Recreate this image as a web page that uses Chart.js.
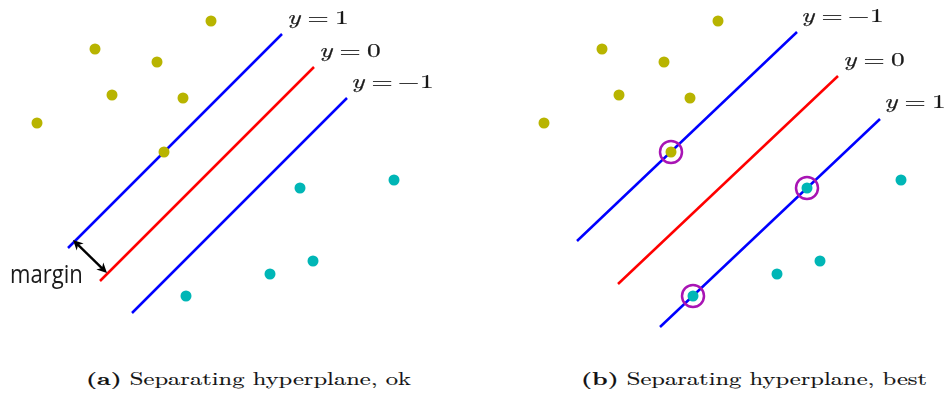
<!DOCTYPE html>
<html>
<head>
<meta charset="utf-8">
<script src="https://cdn.jsdelivr.net/npm/chart.js@4.4.1/dist/chart.umd.min.js"></script>
<style>
  body { margin: 0; background: #fff; width: 948px; height: 398px; position: relative; overflow: hidden; }
  .panel { position: absolute; top: 0; width: 474px; height: 340px; }
  .caption { position: absolute; top: 368px; font: 17.8px "Latin Modern Roman", "Liberation Serif", serif; color: #111;
             white-space: nowrap; transform-origin: left top; line-height: 19px; -webkit-text-stroke: 0.15px #111; }
  .caption b { font-weight: bold; }
</style>
</head>
<body>
<div class="panel" style="left:0"><canvas id="chart-ok"></canvas></div>
<div class="panel" style="left:474px"><canvas id="chart-best"></canvas></div>
<div class="caption" id="cap-ok" style="left:86px"><b>(a)</b> Separating hyperplane, ok</div>
<div class="caption" id="cap-best" style="left:581px"><b>(b)</b> Separating hyperplane, best</div>
<script>
// sample points (same for both panels)
const yellowX = [21.1, 9.5, 15.7, 11.2, 18.3, 3.7, 16.4];
const yellowY = [31.9, 29.1, 27.8, 24.5, 24.2, 21.7, 18.8];
const tealX = [30.0, 39.4, 31.3, 27.0, 18.6];
const tealY = [15.2, 16.0, 7.9, 6.6, 4.4];

// hyperplanes, panel (a)
const okUpper = [[6.8, 9.2], [28.2, 30.6]];
const okMiddle = [[10.0, 5.9], [31.4, 27.3]];
const okLower = [[13.2, 2.7], [34.7, 24.2]];
// hyperplanes, panel (b)
const bestUpper = [[7.0, 9.9], [29.0, 30.8]];
const bestMiddle = [[11.1, 5.6], [33.1, 26.4]];
const bestLower = [[15.3, 1.3], [37.3, 22.1]];

// support vectors in panel (b): [set, index]
const supportRefs = [['yellow', 6], ['teal', 0], ['teal', 4]];

// line labels
const okLabelValues = ['1', '0', '−1'];
const okLabelX = [28.8, 32.0, 35.2];
const okLabelY = [31.6, 28.3, 25.2];
const bestLabelValues = ['−1', '0', '1'];
const bestLabelX = [29.5, 33.7, 37.8];
const bestLabelY = [31.8, 27.4, 23.2];

// margin arrow
const marginArrow = [[7.3, 10.0], [10.7, 6.7]];
const marginLabel = [1.0, 5.75];

const yellowCol = 'rgb(184, 180, 0)';
const tealCol = 'rgb(0, 182, 182)';
const blueCol = '#0000ff';
const redCol = '#ff0000';
const circleCol = 'rgb(168, 20, 180)';

const toPts = (xs, ys) => xs.map((v, i) => ({x: v, y: ys[i]}));
const seg = s => s.map(p => ({x: p[0], y: p[1]}));
const yellowPts = toPts(yellowX, yellowY);
const tealPts = toPts(tealX, tealY);
const supportPts = supportRefs.map(([set, i]) => set === 'yellow' ? yellowPts[i] : tealPts[i]);

function drawPiece(ctx, text, px, py, font, sx, align, bold) {
    ctx.save();
    ctx.translate(px, py);
    ctx.scale(sx, 1);
    ctx.font = font;
    ctx.textAlign = align;
    ctx.textBaseline = 'alphabetic';
    ctx.fillStyle = '#1a1a1a';
    ctx.fillText(text, 0, 0);
    if (bold) {
        ctx.strokeStyle = '#1a1a1a';
        ctx.lineWidth = bold;
        ctx.strokeText(text, 0, 0);
    }
    ctx.restore();
}

function arrowHead(ctx, tip, from, len, half) {
    const dx = tip.x - from.x, dy = tip.y - from.y;
    const d = Math.hypot(dx, dy), ux = dx / d, uy = dy / d;
    ctx.beginPath();
    ctx.moveTo(tip.x, tip.y);
    ctx.lineTo(tip.x - ux * len - uy * half, tip.y - uy * len + ux * half);
    ctx.lineTo(tip.x - ux * len * 0.7, tip.y - uy * len * 0.7);
    ctx.lineTo(tip.x - ux * len + uy * half, tip.y - uy * len - ux * half);
    ctx.closePath();
    ctx.fill();
}

const overlay = {
    id: 'overlay',
    afterDatasetsDraw(chart, args, opts) {
        const {ctx, scales: {x, y}} = chart;
        const math = '19.5px "Latin Modern Roman", "Liberation Serif", serif';
        const sx = 1.4;
        opts.values.forEach((val, i) => {
            const px = x.getPixelForValue(opts.xs[i]);
            const py = y.getPixelForValue(opts.ys[i]);
            drawPiece(ctx, 'y', px - 1, py, 'italic ' + math, sx, 'left', 0.25);
            drawPiece(ctx, '=', px + 30, py, math, sx, 'center', 0.25);
            if (val.startsWith('−')) {
                drawPiece(ctx, '−', px + 56.5, py, math, sx, 'center', 0.25);
                drawPiece(ctx, val.slice(1), px + 68, py, math, sx, 'left', 0.25);
            } else {
                drawPiece(ctx, val, px + 47, py, math, sx, 'left', 0.25);
            }
        });
        if (opts.arrow) {
            const a = {x: x.getPixelForValue(opts.arrow[0][0]), y: y.getPixelForValue(opts.arrow[0][1])};
            const b = {x: x.getPixelForValue(opts.arrow[1][0]), y: y.getPixelForValue(opts.arrow[1][1])};
            ctx.save();
            ctx.strokeStyle = '#000';
            ctx.fillStyle = '#000';
            ctx.lineWidth = 2.4;
            const dx = b.x - a.x, dy = b.y - a.y, d = Math.hypot(dx, dy);
            ctx.beginPath();
            ctx.moveTo(a.x + dx / d * 6, a.y + dy / d * 6);
            ctx.lineTo(b.x - dx / d * 6, b.y - dy / d * 6);
            ctx.stroke();
            arrowHead(ctx, a, b, 10, 5);
            arrowHead(ctx, b, a, 10, 5);
            ctx.restore();
            drawPiece(ctx, 'margin', x.getPixelForValue(opts.label[0]), y.getPixelForValue(opts.label[1]),
                      '500 26px "Open Sans", sans-serif', 0.85, 'left', 0);
        }
    }
};

function lineSet(s, color) {
    return {type: 'line', data: seg(s), borderColor: color, borderWidth: 2.5,
            pointRadius: 0, showLine: true, fill: false, order: 3};
}

function makeChart(id, xMin, lines, labels, extra) {
    const datasets = [
        {data: yellowPts, backgroundColor: yellowCol, borderWidth: 0, pointRadius: 5.5, order: 2},
        {data: tealPts, backgroundColor: tealCol, borderWidth: 0, pointRadius: 5.5, order: 2},
        lineSet(lines[0], blueCol),
        lineSet(lines[1], redCol),
        lineSet(lines[2], blueCol),
    ].concat(extra);
    return new Chart(document.getElementById(id), {
        type: 'scatter',
        data: {datasets},
        options: {
            responsive: true,
            maintainAspectRatio: false,
            animation: false,
            layout: {padding: 0, autoPadding: false},
            scales: {
                x: {type: 'linear', min: xMin, max: xMin + 47.4, display: false},
                y: {type: 'linear', min: 0, max: 34, display: false},
            },
            plugins: {
                legend: {display: false},
                tooltip: {enabled: false},
                overlay: labels,
            },
        },
        plugins: [overlay],
    });
}

const okChart = makeChart('chart-ok', 0, [okUpper, okMiddle, okLower],
    {values: okLabelValues, xs: okLabelX, ys: okLabelY, arrow: marginArrow, label: marginLabel}, []);

const bestChart = makeChart('chart-best', -3.3, [bestUpper, bestMiddle, bestLower],
    {values: bestLabelValues, xs: bestLabelX, ys: bestLabelY},
    [{data: supportPts, backgroundColor: 'rgba(0,0,0,0)', borderColor: circleCol,
      borderWidth: 2.5, pointRadius: 11, order: 1}]);

// stretch captions to the reference widths
[['cap-ok', 325], ['cap-best', 346]].forEach(([id, w]) => {
    const el = document.getElementById(id);
    el.style.transform = 'scaleX(' + (w / el.getBoundingClientRect().width) + ')';
});
</script>
</body>
</html>
